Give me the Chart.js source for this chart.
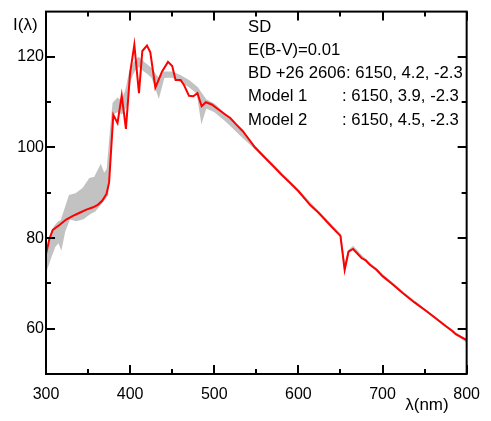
<!DOCTYPE html>
<html>
<head>
<meta charset="utf-8">
<script src="https://cdn.jsdelivr.net/npm/chart.js@4.4.1/dist/chart.umd.min.js"></script>
<style>
  html, body { margin: 0; padding: 0; background: #fff; }
  #wrap { width: 491px; height: 421px; }
</style>
</head>
<body>
<div id="wrap"><canvas id="spec" width="491" height="421"></canvas></div>
<script>
// observed spectrum, BD +26 2606
const obsWave = [300, 304, 308, 316, 324, 332, 340, 348, 356, 362, 367, 372, 375, 380, 385, 390, 395, 400, 405, 410.5,
    414.5, 420, 424, 430, 438, 445, 450, 454, 460, 464, 470, 475, 480, 485, 490, 497, 505, 513, 519, 526,
    534, 544, 548, 560, 570, 580, 590, 600, 614, 624, 640, 650, 655, 659.5, 665, 670, 675, 680, 685, 693,
    700, 712, 724, 738, 752, 764, 775, 783, 787, 800];
const obsFlux = [76.5, 79.8, 81.8, 82.9, 84.1, 84.9, 85.6, 86.3, 86.8, 87.4, 88.3, 89.8, 92.3, 107.2, 105.4, 111.5, 104.1, 116.5, 122.7, 112.0,
    121.3, 122.5, 121.0, 113.2, 116.8, 118.9, 118.0, 114.9, 114.9, 113.8, 111.4, 111.3, 112.0, 109.1, 110.0, 109.5, 108.4, 107.3, 106.5, 105.1,
    103.6, 101.1, 100.1, 97.8, 95.9, 94.0, 92.2, 90.4, 87.3, 85.6, 82.4, 80.5, 73.0, 77.0, 77.6, 76.6, 75.6, 75.1, 74.1, 73.0,
    71.6, 69.8, 67.9, 65.8, 63.9, 62.2, 60.6, 59.5, 58.8, 57.5];

// the two models, on one wavelength grid
const modelWave = [300, 305, 310, 315, 318, 322, 328, 336, 344, 352, 358, 365, 369, 373, 377, 380, 385, 390, 395, 400,
    405, 410, 416, 420, 426, 430, 434, 440, 450, 460, 470, 480, 485, 490, 500, 510, 520, 530, 540, 550,
    575, 600, 625, 650, 655, 660, 665, 675, 700, 725, 750, 775, 800];
const model1Flux = [72.8, 75.5, 78.0, 79.2, 77.8, 81.5, 84.3, 83.9, 84.3, 85.4, 86.0, 87.5, 88.5, 89.4, 100.0, 107.5, 108.0, 107.5, 109.0, 115.0,
    117.0, 118.0, 117.0, 116.5, 115.5, 113.5, 111.3, 115.5, 115.6, 114.6, 113.5, 112.0, 105.8, 108.8, 108.0, 106.5, 104.8, 103.0, 101.3, 99.5,
    95.0, 90.2, 85.4, 80.5, 73.3, 77.0, 77.8, 75.8, 71.6, 67.7, 64.1, 60.5, 57.1];
const model2Flux = [76.0, 79.5, 82.5, 83.6, 83.8, 86.0, 89.4, 89.8, 90.9, 93.1, 93.4, 96.0, 94.1, 95.2, 104.0, 109.8, 110.8, 110.2, 112.5, 117.0,
    118.8, 119.8, 118.8, 118.2, 117.3, 116.0, 115.2, 116.6, 116.6, 115.8, 114.7, 113.2, 111.8, 110.5, 109.5, 107.8, 106.0, 104.2, 102.1, 99.8,
    95.2, 90.5, 85.6, 80.8, 73.6, 77.3, 78.1, 76.1, 71.9, 67.9, 64.3, 60.7, 57.3];

const xMajor = [300, 400, 500, 600, 700, 800];
const xMinor = [350, 450, 550, 650, 750];
const yMajor = [60, 80, 100, 120];
const yMinor = [70, 90, 110];

const legendRows = [
    ['SD', ''],
    ['E(B-V)=0.01', ''],
    ['BD +26 2606: 6150, 4.2, -2.3', ''],
    ['Model 1', ': 6150, 3.9, -2.3'],
    ['Model 2', ': 6150, 4.5, -2.3'],
];

const FAMILY = '"Liberation Sans", Arial, sans-serif';
const toPoints = (xs, ys) => xs.map((w, i) => ({ x: w, y: ys[i] }));

// frame, inward ticks on all four sides, axis titles and the text block
const frameTicks = {
    id: 'frameTicks',
    afterDraw(chart) {
        const { ctx, chartArea: a, scales: { x, y } } = chart;
        ctx.save();
        ctx.strokeStyle = '#000';
        ctx.lineWidth = 2;
        ctx.beginPath();
        const xt = (vals, len) => vals.forEach(v => {
            const p = Math.round(x.getPixelForValue(v));
            ctx.moveTo(p, a.bottom); ctx.lineTo(p, a.bottom - len);
            ctx.moveTo(p, a.top); ctx.lineTo(p, a.top + len);
        });
        const yt = (vals, len) => vals.forEach(v => {
            const p = Math.round(y.getPixelForValue(v));
            ctx.moveTo(a.left, p); ctx.lineTo(a.left + len, p);
            ctx.moveTo(a.right, p); ctx.lineTo(a.right - len, p);
        });
        xt(xMajor, 9); xt(xMinor, 5);
        yt(yMajor, 9); yt(yMinor, 5);
        ctx.stroke();
        ctx.strokeRect(a.left, a.top, a.right - a.left, a.bottom - a.top);

        ctx.fillStyle = '#000';
        ctx.font = '17px ' + FAMILY;
        ctx.textBaseline = 'alphabetic';
        ctx.textAlign = 'left';
        ctx.fillText('I(\u03bb)', 13, 30);
        ctx.textAlign = 'right';
        ctx.fillText('\u03bb(nm)', a.right - 18, 410);

        ctx.font = '16.7px ' + FAMILY;
        ctx.textAlign = 'left';
        legendRows.forEach((r, i) => {
            const by = 31.5 + i * 23.3;
            ctx.fillText(r[0], 248, by);
            if (r[1]) ctx.fillText(r[1], 342, by);
        });
        ctx.restore();
    }
};

new Chart(document.getElementById('spec'), {
    type: 'line',
    data: {
        datasets: [{
            label: 'BD +26 2606',
            data: toPoints(obsWave, obsFlux),
            borderColor: '#ff0000',
            borderWidth: 2,
            pointRadius: 0,
            tension: 0,
            fill: false,
        }, {
            label: 'Model 2',
            data: toPoints(modelWave, model2Flux),
            borderColor: '#c2c2c2',
            borderWidth: 1.5,
            backgroundColor: '#c2c2c2',
            pointRadius: 0,
            tension: 0,
            fill: '+1',
        }, {
            label: 'Model 1',
            data: toPoints(modelWave, model1Flux),
            borderColor: '#c2c2c2',
            borderWidth: 1.5,
            pointRadius: 0,
            tension: 0,
            fill: false,
        }]
    },
    options: {
        responsive: false,
        animation: false,
        devicePixelRatio: 1,
        layout: { padding: { top: 10, right: 20, left: 0, bottom: 0 } },
        scales: {
            x: {
                type: 'linear',
                min: 300,
                max: 800,
                grid: { display: false, drawTicks: false },
                border: { display: false },
                afterBuildTicks: (scale) => { scale.ticks = xMajor.map(v => ({ value: v })); },
                afterFit: (scale) => { scale.height = 47; },
                ticks: {
                    color: '#000',
                    padding: 11,
                    maxRotation: 0,
                    font: { family: FAMILY, size: 16 },
                },
            },
            y: {
                type: 'linear',
                min: 50,
                max: 130,
                grid: { display: false, drawTicks: false },
                border: { display: false },
                afterBuildTicks: (scale) => { scale.ticks = yMajor.map(v => ({ value: v })); },
                afterFit: (scale) => { scale.width = 46; },
                ticks: {
                    color: '#000',
                    padding: 2,
                    font: { family: FAMILY, size: 16 },
                },
            }
        },
        plugins: {
            legend: { display: false },
            tooltip: { enabled: false },
        }
    },
    plugins: [frameTicks]
});
</script>
</body>
</html>
